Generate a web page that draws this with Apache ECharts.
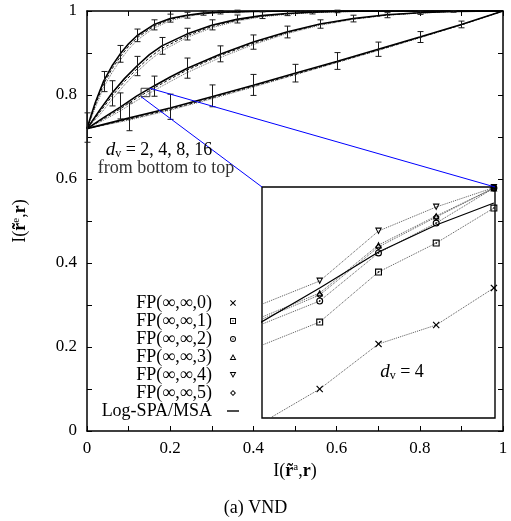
<!DOCTYPE html>
<html><head><meta charset="utf-8">
<script src="https://cdn.jsdelivr.net/npm/echarts@6/dist/echarts.min.js"></script>
<style>html,body{margin:0;padding:0;background:#fff}#c{width:511px;height:521px}</style>
</head><body><div id="c"></div>
<script>
// ---- tick labels ----
const xTickLabels = ['0','0.2','0.4','0.6','0.8','1'];
const yTickLabels = ['0','0.2','0.4','0.6','0.8','1'];

// ---- main curves: d_v = 2 ----
const dv2X     = [0,0.1,0.2,0.3,0.4,0.5,0.6,0.7,0.8,0.9,1.0];
const dv2Solid = [0.720,0.745,0.769,0.796,0.823,0.852,0.880,0.909,0.938,0.968,1.000];
const dv2FpA   = [0.720,0.742,0.766,0.793,0.821,0.849,0.878,0.907,0.937,0.967,1.000];
const dv2FpB   = [0.720,0.740,0.764,0.791,0.819,0.848,0.877,0.906,0.936,0.967,1.000];
// ---- d_v = 4 ----
const dv4X     = [0,0.04,0.08,0.12,0.16,0.20,0.24,0.32,0.40,0.48,0.56,0.64,0.72,0.80,0.88,1.0];
const dv4Solid = [0.720,0.746,0.771,0.798,0.821,0.843,0.863,0.897,0.926,0.950,0.969,0.982,0.991,0.996,0.999,1.000];
const dv4FpA   = [0.720,0.743,0.767,0.793,0.816,0.838,0.859,0.894,0.923,0.948,0.968,0.981,0.990,0.996,0.999,1.000];
const dv4FpB   = [0.720,0.740,0.762,0.787,0.810,0.832,0.853,0.889,0.920,0.946,0.966,0.980,0.990,0.995,0.999,1.000];
// ---- d_v = 8 ----
const dv8X     = [0,0.03,0.06,0.09,0.12,0.15,0.18,0.24,0.30,0.36,0.42,0.48,0.54,0.60,0.70,0.80,1.0];
const dv8Solid = [0.720,0.763,0.804,0.839,0.869,0.896,0.917,0.945,0.966,0.980,0.989,0.994,0.997,0.999,1.000,1.000,1.000];
const dv8FpA   = [0.720,0.758,0.797,0.832,0.862,0.889,0.911,0.941,0.963,0.978,0.988,0.993,0.997,0.999,1.000,1.000,1.000];
const dv8FpB   = [0.720,0.752,0.789,0.824,0.855,0.882,0.905,0.937,0.960,0.976,0.986,0.992,0.996,0.998,1.000,1.000,1.000];
// ---- d_v = 16 ----
const dv16X     = [0,0.01,0.02,0.04,0.06,0.08,0.10,0.12,0.16,0.20,0.24,0.28,0.32,0.40,0.50,0.60,1.0];
const dv16Solid = [0.720,0.752,0.782,0.833,0.869,0.898,0.922,0.941,0.967,0.982,0.990,0.995,0.997,0.999,1.000,1.000,1.000];
const dv16FpA   = [0.720,0.748,0.776,0.826,0.862,0.891,0.916,0.936,0.963,0.980,0.989,0.994,0.997,0.999,1.000,1.000,1.000];
const dv16FpB   = [0.720,0.745,0.770,0.818,0.853,0.883,0.909,0.930,0.959,0.977,0.987,0.993,0.996,0.999,1.000,1.000,1.000];

// ---- error bars (all groups): x, centre, half-length ----
const errX    = [0,   0.1,0.2,0.3,0.4,0.5,0.6,0.7,0.8,0.9,
                 0.08,0.16,0.24,0.32,0.40,0.48,0.56,0.64,0.72,0.80,0.88,
                 0.06,0.12,0.18,0.24,0.30,0.36,0.42,0.48,0.54,0.60,
                 0.04,0.08,0.12,0.16,0.20,0.24,0.28,0.32,0.36];
const errMid  = [0.7225,0.748,0.772,0.798,0.824,0.852,0.881,0.909,0.938,0.968,
                 0.774,0.821,0.864,0.898,0.926,0.950,0.969,0.982,0.990,0.996,0.999,
                 0.804,0.869,0.917,0.945,0.967,0.981,0.990,0.995,0.997,0.999,
                 0.832,0.898,0.942,0.967,0.983,0.990,0.995,0.997,0.999];
const errHalf = [0.035,0.033,0.030,0.026,0.025,0.021,0.020,0.017,0.013,0.008,
                 0.031,0.024,0.024,0.019,0.017,0.014,0.010,0.008,0.006,0.004,0.002,
                 0.030,0.023,0.020,0.014,0.012,0.0095,0.008,0.006,0.004,0.003,
                 0.024,0.020,0.015,0.012,0.0095,0.007,0.005,0.004,0.003];

// ---- zoom window (square in main plot = inset range) ----
const zoomX = [0.130, 0.151];
const zoomY = [0.796, 0.816];

// ---- inset data (d_v = 4) ----
const insetX = [0.1298, 0.1352, 0.1405, 0.1457, 0.1509];
const fp0 = [0.79548,0.79851,0.80241,0.80405,0.80726];
const fp1 = [0.80223,0.80431,0.80864,0.81115,0.81418];
const fp2 = [0.80405,0.80613,0.81029,0.81288,0.81591];
const fp3 = [0.80466,0.80682,0.81098,0.81349,0.81591];
const fp4 = [0.80578,0.80786,0.81219,0.81427,0.81595];
const fp5 = [0.80448,0.80665,0.81081,0.81340,0.81591];
const logSpa = [0.80423,0.80726,0.81037,0.81271,0.81461];
const seriesNames = ['FP(∞,∞,0)','FP(∞,∞,1)','FP(∞,∞,2)','FP(∞,∞,3)','FP(∞,∞,4)','FP(∞,∞,5)','Log-SPA/MSA'];

// ---- symbols ----
const SYM = [
  'path://M0,1.2 L1.2,0 L5,3.8 L8.8,0 L10,1.2 L6.2,5 L10,8.8 L8.8,10 L5,6.2 L1.2,10 L0,8.8 L3.8,5 Z',
  'path://M0,0 L10,0 L10,10 L0,10 Z M1.6,1.6 L1.6,8.4 L8.4,8.4 L8.4,1.6 Z M4,4 L6,4 L6,6 L4,6 Z',
  'path://M5,0 A5,5 0 1 1 5,10 A5,5 0 1 1 5,0 Z M5,1.6 A3.4,3.4 0 1 0 5,8.4 A3.4,3.4 0 1 0 5,1.6 Z M4,4 L6,4 L6,6 L4,6 Z',
  'path://M5,0 L10,9 L0,9 Z M5,3 L2.4,7.5 L7.6,7.5 Z',
  'path://M0,0 L10,0 L5,9 Z M2.4,1.5 L5,6 L7.6,1.5 Z',
  'path://M5,0 L10,5 L5,10 L0,5 Z M5,2.2 L2.2,5 L5,7.8 L7.8,5 Z'
];
const LINE_ICON = 'path://M0,0 L12,0 L12,1.4 L0,1.4 Z';

const FONT = 'Liberation Serif';
const pairs = (xs, ys) => xs.map((x, i) => [x, ys[i]]);

const chart = echarts.init(document.getElementById('c'), null, {renderer: 'canvas'});

const series = [];
const groups = [[dv2X,dv2Solid,dv2FpA,dv2FpB],[dv4X,dv4Solid,dv4FpA,dv4FpB],[dv8X,dv8Solid,dv8FpA,dv8FpB],[dv16X,dv16Solid,dv16FpA,dv16FpB]];
groups.forEach((g, k) => {
  series.push({type:'line', name:'fpB'+k, data:pairs(g[0], g[3]), xAxisIndex:0, yAxisIndex:0, symbol:'none', smooth:false,
    lineStyle:{color:'#666', width:1, type:'dotted'}, z:2, silent:true});
  series.push({type:'line', name:'fpA'+k, data:pairs(g[0], g[2]), xAxisIndex:0, yAxisIndex:0, symbol:'none', smooth:false,
    lineStyle:{color:'#111', width:1, type:[3,2]}, z:2, silent:true});
  series.push({type:'line', name:'solid'+k, data:pairs(g[0], g[1]), xAxisIndex:0, yAxisIndex:0, symbol:'none', smooth:false,
    lineStyle:{color:'#000', width:1.6}, z:3, silent:true});
});

series.push({
  type:'custom', name:'err', xAxisIndex:0, yAxisIndex:0, z:4, silent:true,
  data: errX.map((x, i) => [x, errMid[i] - errHalf[i], errMid[i] + errHalf[i]]),
  encode:{x:0, y:[1,2]},
  renderItem(params, api) {
    const lo = api.coord([api.value(0), api.value(1)]);
    const hi = api.coord([api.value(0), api.value(2)]);
    const x = Math.round(lo[0]) + 0.5;
    const w = 3, st = {stroke:'#1a1a1a', lineWidth:1};
    return {type:'group', children:[
      {type:'line', shape:{x1:x, y1:lo[1], x2:x, y2:hi[1]}, style:st},
      {type:'line', shape:{x1:x-w, y1:lo[1], x2:x+w, y2:lo[1]}, style:st},
      {type:'line', shape:{x1:x-w, y1:hi[1], x2:x+w, y2:hi[1]}, style:st}
    ]};
  }
});

// square in main plot
series.push({type:'line', name:'zoomBox', xAxisIndex:0, yAxisIndex:0, symbol:'none', silent:true, z:5,
  data:[[zoomX[0],zoomY[0]],[zoomX[1],zoomY[0]],[zoomX[1],zoomY[1]],[zoomX[0],zoomY[1]],[zoomX[0],zoomY[0]]],
  lineStyle:{color:'#333', width:1}});

// inset series
const fpData = [fp0, fp1, fp2, fp3, fp4, fp5];
fpData.forEach((ys, i) => {
  series.push({type:'line', name:seriesNames[i], xAxisIndex:2, yAxisIndex:2, data:pairs(insetX, ys),
    symbol:SYM[i], symbolSize:7, showAllSymbol:true, clip:true, z:6,
    itemStyle:{color:'#000', borderWidth:0}, lineStyle:{color:'#555', width:1, type:'dotted'}});
});
series.push({type:'line', name:seriesNames[6], xAxisIndex:2, yAxisIndex:2, data:pairs(insetX, logSpa),
  symbol:'none', clip:true, z:6, itemStyle:{color:'#000'}, lineStyle:{color:'#000', width:1.2}});

const tickFmt = (labels) => (v) => {
  const k = Math.round(v * 10);
  return k % 2 === 0 ? labels[k / 2] : '';
};
const axisLineStyle = {color:'#000', width:1.5};
const tickStyle = {inside:true, length:5, lineStyle:{color:'#000', width:1}};

const option = {
  animation:false,
  backgroundColor:'#fff',
  title:{text:'(a) VND', left:'center', top:494, textStyle:{fontFamily:FONT, fontSize:18, fontWeight:'normal', color:'#000'}},
  grid:[
    {left:87, top:11, width:416, height:420, outerBoundsMode:'none'},
    {left:262, top:187, width:233, height:231, show:true, borderColor:'#000', borderWidth:1.4, backgroundColor:'#fff', outerBoundsMode:'none', z:1}
  ],
  xAxis:[
    {gridIndex:0, type:'value', min:0, max:1, interval:0.1, position:'bottom',
      axisLine:{onZero:false, lineStyle:axisLineStyle}, axisTick:tickStyle, splitLine:{show:false},
      axisLabel:{formatter:tickFmt(xTickLabels), color:'#000', fontFamily:FONT, fontSize:17, margin:9, showMinLabel:true, showMaxLabel:true},
      name:'{n|I(}{b|r̃}{sup|a}{n|,}{b|r}{n|)}', nameLocation:'middle', nameGap:28,
      nameTextStyle:{color:'#000', fontFamily:FONT, fontSize:18,
        rich:{n:{fontFamily:FONT, fontSize:18, color:'#000'}, b:{fontFamily:FONT, fontSize:18, fontWeight:'bold', color:'#000'}, sup:{fontFamily:FONT, fontSize:11, verticalAlign:'top', color:'#000'}}}},
    {gridIndex:0, type:'value', min:0, max:1, interval:0.1, position:'top',
      axisLine:{onZero:false, lineStyle:axisLineStyle}, axisTick:tickStyle, splitLine:{show:false}, axisLabel:{show:false}},
    {gridIndex:1, type:'value', min:zoomX[0], max:zoomX[1], show:false, splitLine:{show:false}}
  ],
  yAxis:[
    {gridIndex:0, type:'value', min:0, max:1, interval:0.1, position:'left',
      axisLine:{onZero:false, lineStyle:axisLineStyle}, axisTick:tickStyle, splitLine:{show:false},
      axisLabel:{formatter:tickFmt(yTickLabels), color:'#000', fontFamily:FONT, fontSize:17, margin:10},
      name:'{n|I(}{b|r̃}{sup|e}{n|,}{b|r}{n|)}', nameLocation:'middle', nameGap:58, nameRotate:90,
      nameTextStyle:{color:'#000', fontFamily:FONT, fontSize:18,
        rich:{n:{fontFamily:FONT, fontSize:18, color:'#000'}, b:{fontFamily:FONT, fontSize:18, fontWeight:'bold', color:'#000'}, sup:{fontFamily:FONT, fontSize:11, verticalAlign:'top', color:'#000'}}}},
    {gridIndex:0, type:'value', min:0, max:1, interval:0.1, position:'right',
      axisLine:{onZero:false, lineStyle:axisLineStyle}, axisTick:tickStyle, splitLine:{show:false}, axisLabel:{show:false}},
    {gridIndex:1, type:'value', min:zoomY[0], max:zoomY[1], show:false, splitLine:{show:false}}
  ],
  legend:{
    orient:'vertical', right:272, top:294, padding:0, itemGap:0, itemWidth:12, itemHeight:6, align:'right',
    selectedMode:false, itemStyle:{borderWidth:0},
    textStyle:{fontFamily:FONT, fontSize:18, color:'#000', lineHeight:17, padding:[0,10,0,0]},
    data: seriesNames.map((n, i) => ({name:n, icon: i < 6 ? SYM[i] : LINE_ICON}))
  },
  series: series
};
chart.setOption(option);

// zoom lines, annotations (after layout)
const a1 = chart.convertToPixel({xAxisIndex:0, yAxisIndex:0}, [zoomX[0], zoomY[0]]);
const b1 = chart.convertToPixel({xAxisIndex:2, yAxisIndex:2}, [zoomX[0], zoomY[1]]);
const a2 = chart.convertToPixel({xAxisIndex:0, yAxisIndex:0}, [zoomX[1], zoomY[1]]);
const b2 = chart.convertToPixel({xAxisIndex:2, yAxisIndex:2}, [zoomX[1], zoomY[1]]);
const richSub = {
  i:{fontFamily:FONT, fontSize:19, fontStyle:'italic', color:'#333'},
  s:{fontFamily:FONT, fontSize:12, verticalAlign:'bottom', color:'#333'},
  n:{fontFamily:FONT, fontSize:18, color:'#333'}
};
chart.setOption({graphic:[
  {type:'line', id:'zl1', shape:{x1:a1[0], y1:a1[1], x2:b1[0], y2:b1[1]}, style:{stroke:'#0000ff', lineWidth:1}, z:10, silent:true},
  {type:'line', id:'zl2', shape:{x1:a2[0], y1:a2[1], x2:b2[0], y2:b2[1]}, style:{stroke:'#0000ff', lineWidth:1}, z:10, silent:true},
  {type:'text', id:'t1', x:159, y:150, z:10, style:{text:'{i|d}{s|v}{n| = 2, 4, 8, 16}', rich:richSub, align:'center', verticalAlign:'middle'}},
  {type:'text', id:'t2', x:166, y:168, z:10, style:{text:'from bottom to top', fontFamily:FONT, fontSize:18, fill:'#333', align:'center', verticalAlign:'middle'}},
  {type:'text', id:'t3', x:402, y:372, z:10, style:{text:'{i|d}{s|v}{n| = 4}', rich:richSub, align:'center', verticalAlign:'middle'}}
]});
</script>
</body></html>
